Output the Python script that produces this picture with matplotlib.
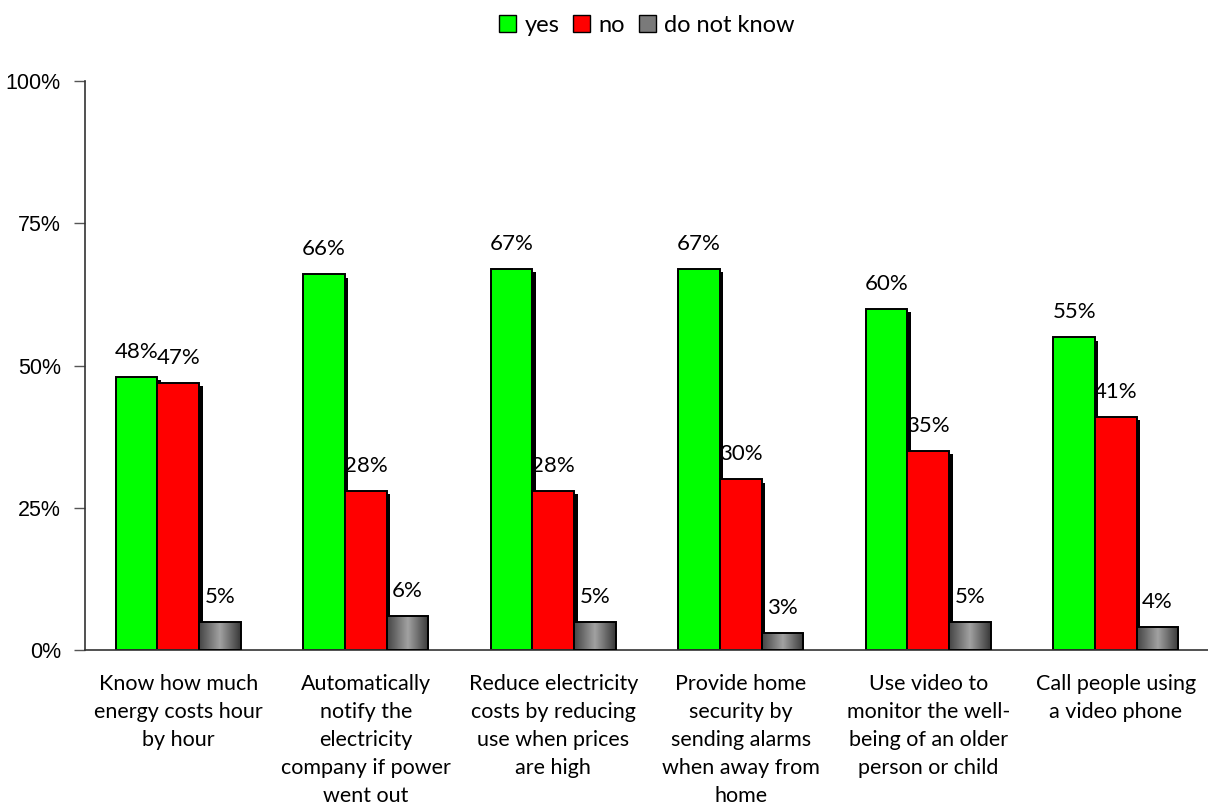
import matplotlib
matplotlib.use("Agg")

import matplotlib.pyplot as plt
import matplotlib.transforms as mtransforms
from matplotlib.colors import LinearSegmentedColormap
from matplotlib.patches import Patch
import numpy as np

categories = [
    "Know how much\nenergy costs hour\nby hour",
    "Automatically\nnotify the\nelectricity\ncompany if power\nwent out",
    "Reduce electricity\ncosts by reducing\nuse when prices\nare high",
    "Provide home\nsecurity by\nsending alarms\nwhen away from\nhome",
    "Use video to\nmonitor the well-\nbeing of an older\nperson or child",
    "Call people using\na video phone",
]
yes = [48, 66, 67, 67, 60, 55]
no = [47, 28, 28, 30, 35, 41]
dont_know = [5, 6, 5, 3, 5, 4]

LABEL_FONT = "Lato"
TICK_FONT = "Liberation Sans"

fig = plt.figure(figsize=(12.08, 8.10), dpi=100)
ax = fig.add_axes([0.070, 0.1975, 0.9313, 0.7025])

x = np.arange(len(categories)) + 0.5
w = 0.2222

# drop shadows behind the green and red bars
shadow = mtransforms.offset_copy(ax.transData, fig=fig, x=3.5, y=-3.5, units="dots")
ax.bar(x - w, yes, w, color="black", linewidth=0, transform=shadow, zorder=1)
ax.bar(x, no, w, color="black", linewidth=0, transform=shadow, zorder=1)

ax.bar(x - w, yes, w, color="#00ff00", edgecolor="black", linewidth=1.4, zorder=2)
ax.bar(x, no, w, color="#ff0000", edgecolor="black", linewidth=1.4, zorder=2)
gray_bars = ax.bar(x + w, dont_know, w, facecolor="none", edgecolor="black",
                   linewidth=1.4, zorder=4)

# cylinder-like shading for the "do not know" bars
shade = LinearSegmentedColormap.from_list("shade", ["#454545", "#a2a2a2", "#383838"])
grad = np.linspace(0, 1, 64).reshape(1, -1)
for rect in gray_bars:
    x0, h, bw = rect.get_x(), rect.get_height(), rect.get_width()
    im = ax.imshow(grad, cmap=shade, extent=(x0, x0 + bw, 0, h),
                   aspect="auto", zorder=3, interpolation="bilinear")
    im.set_clip_path(rect)

for xs, vals in ((x - w, yes), (x, no), (x + w, dont_know)):
    for xi, v in zip(xs, vals):
        ax.annotate(f"{v}%", (xi, v), xytext=(0, 13.7), textcoords="offset points",
                    ha="center", va="baseline", fontsize=16, family=LABEL_FONT)

ax.set_xlim(0, len(categories))
ax.set_ylim(0, 100)
ax.set_yticks([0, 25, 50, 75, 100])
ax.set_yticklabels(["0%", "25%", "50%", "75%", "100%"], family=TICK_FONT, fontsize=15.5)
ax.set_xticks(x)
ax.set_xticklabels(categories, family=LABEL_FONT, fontsize=15.5, linespacing=1.5)
ax.tick_params(axis="x", length=0, pad=17)
ax.tick_params(axis="y", length=8, width=1, color="#555555", pad=9)

for side in ("top", "right"):
    ax.spines[side].set_visible(False)
for side in ("left", "bottom"):
    ax.spines[side].set_color("#333333")
    ax.spines[side].set_linewidth(1.2)

handles = [
    Patch(facecolor="#00ff00", edgecolor="black", label="yes"),
    Patch(facecolor="#ff0000", edgecolor="black", label="no"),
    Patch(facecolor="#7a7a7a", edgecolor="black", label="do not know"),
]
fig.legend(handles=handles, loc="center", bbox_to_anchor=(647 / 1208, 1 - 25 / 810),
           ncol=3, frameon=False, prop={"family": LABEL_FONT, "size": 17},
           handlelength=0.72, handleheight=0.72, handletextpad=0.35,
           columnspacing=0.6, borderaxespad=0)

fig.savefig("out.png", dpi=100)
